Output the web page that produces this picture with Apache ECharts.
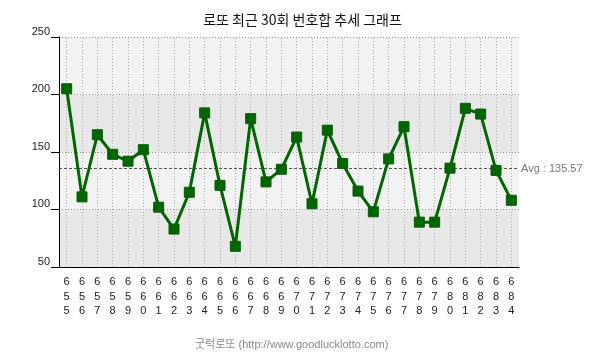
<!DOCTYPE html>
<html><head><meta charset="utf-8">
<script src="https://cdn.jsdelivr.net/npm/echarts@6/dist/echarts.min.js"></script>
<style>html,body{margin:0;padding:0;background:#fff}#c{width:605px;height:359px}</style>
</head><body><div id="c"></div>
<script>
const categories = ['655','656','657','658','659','660','661','662','663','664','665','666','667','668','669','670','671','672','673','674','675','676','677','678','679','680','681','682','683','684'];
const sums = [205,111,165,148,142,152,102,83,115,184,121,68,179,124,135,163,105,169,140,116,98,144,172,89,89,136,188,183,134,108];
const avgValue = 135.57;
const yTicks = [50,100,150,200,250];

const latin = "'Liberation Sans', 'Noto Sans CJK KR', sans-serif";
const chart = echarts.init(document.getElementById('c'));
chart.setOption({
  animation: false,
  title: {
    text: '로또 최근 30회 번호합 추세 그래프',
    left: 'center', top: 8,
    textStyle: {fontFamily: "'Noto Sans CJK KR'", fontSize: 14, fontWeight: 'normal', color: '#111'}
  },
  graphic: [{
    type: 'text', left: 195, top: 339,
    style: {text: '굿럭로또 (http://www.goodlucklotto.com)', fontFamily: latin, fontSize: 11, fill: '#888'}
  }],
  grid: {left: 59, right: 86, top: 37, bottom: 92},
  xAxis: {
    type: 'category', data: categories, boundaryGap: true,
    axisLine: {lineStyle: {color: '#000', width: 1}},
    axisTick: {alignWithLabel: true, length: 5, lineStyle: {color: '#000'}},
    axisLabel: {
      interval: 0, margin: 8, color: '#222', fontFamily: latin, fontSize: 11, lineHeight: 14.5,
      formatter: v => v.split('').join('\n')
    },
    splitLine: {show: false}
  },
  yAxis: {
    type: 'value', min: yTicks[0], max: yTicks[yTicks.length-1], interval: 50,
    axisLine: {show: true, lineStyle: {color: '#000'}},
    axisTick: {show: true, length: 8, lineStyle: {color: '#000'}},
    axisLabel: {color: '#222', fontFamily: latin, fontSize: 11, margin: 9, verticalAlign: 'bottom', lineHeight: 11},
    splitLine: {show: true, lineStyle: {color: '#999', type: [1, 2], width: 1}},
    splitArea: {show: true, areaStyle: {color: ['#e8e8e8', '#f2f2f2']}}
  },
  series: [{
    type: 'line', data: sums,
    symbol: 'rect', symbolSize: 10,
    lineStyle: {color: '#006600', width: 3},
    itemStyle: {color: '#006600', borderColor: '#0b5a0b', borderWidth: 1},
    z: 5,
    markLine: {
      silent: true, symbol: 'none', animation: false,
      data: categories.map(c => ({xAxis: c})).concat([{xAxis: categories.length - 0.5}]),
      lineStyle: {color: '#b0b0b0', type: [1, 2], width: 1},
      label: {show: false}
    }
  }, {
    type: 'line', data: [],
    markLine: {
      silent: true, symbol: 'none', animation: false,
      data: [{yAxis: avgValue}],
      lineStyle: {color: '#555', type: [3, 2], width: 1},
      label: {show: true, position: 'end', formatter: 'Avg : ' + avgValue, color: '#777', fontFamily: latin, fontSize: 11, distance: 2}
    }
  }]
});
</script></body></html>
